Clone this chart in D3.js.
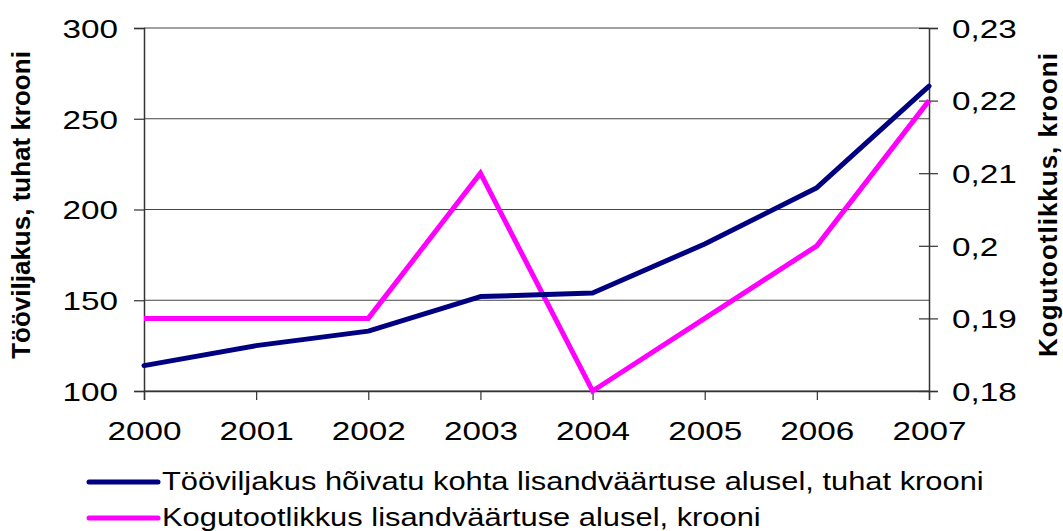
<!DOCTYPE html>
<html>
<head>
<meta charset="utf-8">
<script src="https://cdn.jsdelivr.net/npm/d3@7"></script>
<style>
  html, body { margin: 0; padding: 0; background: #fff; }
  svg { display: block; font-family: Arial, "Liberation Sans", sans-serif; }
</style>
</head>
<body>
<svg id="chart" width="1063" height="531"></svg>
<script>
// data
const years = [2000, 2001, 2002, 2003, 2004, 2005, 2006, 2007];
const labourProd = [114, 125, 133, 152, 154, 181, 212, 268];
const totalProd = [0.19, 0.19, 0.19, 0.21, 0.18, 0.19, 0.20, 0.22];
const leftTicks = [100, 150, 200, 250, 300];
const rightTicks = [0.18, 0.19, 0.20, 0.21, 0.22, 0.23];
const seriesNames = [
  "Tööviljakus hõivatu kohta lisandväärtuse alusel, tuhat krooni",
  "Kogutootlikkus lisandväärtuse alusel, krooni"
];
const seriesColors = ["#000080", "#ff00ff"];

(function () {
  const svg = d3.select("#chart");
  const pLeft = 144, pRight = 929, pTop = 28, pBottom = 391;
  const FS = 26;        // font size
  const numStretch = 1.28; // the source bitmap is a bit wide
  const legStretch = 1.235;

  const x = d3.scalePoint().domain(years).range([pLeft, pRight]);
  const yL = d3.scaleLinear().domain([100, 300]).range([pBottom, pTop]);
  const yR = d3.scaleLinear().domain([0.18, 0.23]).range([pBottom, pTop]);

  // gridlines
  svg.append("g")
    .selectAll("line")
    .data(leftTicks)
    .enter().append("line")
    .attr("x1", pLeft).attr("x2", pRight)
    .attr("y1", d => yL(d)).attr("y2", d => yL(d))
    .attr("stroke", "#444").attr("stroke-width", 1.2);

  // left axis
  const gL = svg.append("g")
    .attr("transform", `translate(${pLeft},0)`)
    .call(d3.axisLeft(yL).tickValues(leftTicks).tickSize(10));
  // right axis
  const fmtR = d => String(+d.toFixed(2)).replace(".", ",");
  const gR = svg.append("g")
    .attr("transform", `translate(${pRight},0)`)
    .call(d3.axisRight(yR).tickValues(rightTicks).tickSize(9).tickFormat(fmtR));
  gR.selectAll(".tick line").attr("x1", -10);
  // bottom axis
  const gB = svg.append("g")
    .attr("transform", `translate(0,${pBottom})`)
    .call(d3.axisBottom(x).tickSize(9).tickFormat(d3.format("d")));

  [gL, gR, gB].forEach(g => {
    g.select(".domain").attr("stroke", "#333").attr("stroke-width", 1.5);
    g.selectAll(".tick line").attr("stroke", "#333").attr("stroke-width", 1.2);
    g.selectAll(".tick text")
      .attr("fill", "#000")
      .attr("font-size", FS)
      .attr("font-family", "Arial, 'Liberation Sans', sans-serif")
      .attr("transform", `scale(${numStretch},1)`);
  });
  gL.selectAll(".tick text").attr("x", -26 / numStretch).attr("dy", "0.36em");
  gR.selectAll(".tick text").attr("x", 23 / numStretch).attr("dy", "0.36em");
  gB.selectAll(".tick text").attr("y", 49).attr("dy", 0);

  // lines
  const lineL = d3.line().x((d, i) => x(years[i])).y(d => yL(d));
  const lineR = d3.line().x((d, i) => x(years[i])).y(d => yR(d));

  svg.append("path")
    .attr("d", lineR(totalProd))
    .attr("fill", "none")
    .attr("stroke", seriesColors[1])
    .attr("stroke-width", 5);

  svg.append("path")
    .attr("d", lineL(labourProd))
    .attr("fill", "none")
    .attr("stroke", seriesColors[0])
    .attr("stroke-width", 5)
    .attr("stroke-linejoin", "round")
    .attr("stroke-linecap", "round");

  // axis titles
  svg.append("text")
    .attr("transform", `translate(30,205) rotate(-90)`)
    .attr("text-anchor", "middle")
    .attr("font-size", FS)
    .attr("font-weight", "bold")
    .text("Tööviljakus, tuhat krooni");

  svg.append("text")
    .attr("transform", `translate(1057,205) rotate(-90)`)
    .attr("text-anchor", "middle")
    .attr("font-size", FS)
    .attr("font-weight", "bold")
    .attr("textLength", 304)
    .text("Kogutootlikkus, krooni");

  // legend
  const leg = svg.append("g");
  seriesNames.forEach((name, i) => {
    const ly = 482 + i * 36;
    leg.append("line")
      .attr("x1", 89).attr("x2", 158)
      .attr("y1", ly).attr("y2", ly)
      .attr("stroke", seriesColors[i])
      .attr("stroke-width", 5)
      .attr("stroke-linecap", "round");
    leg.append("text")
      .attr("transform", `translate(162,${ly + 8}) scale(${legStretch},1)`)
      .attr("font-size", FS - 1)
      .text(name);
  });
})();
</script>
</body>
</html>
